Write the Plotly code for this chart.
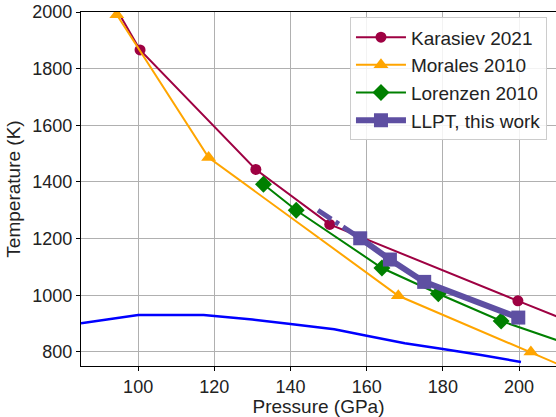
import plotly.graph_objects as go

# Data
blue_p = [85, 100, 117.2, 130, 140, 151.5, 160, 170, 180, 190, 200.5]
blue_t = [901, 930, 930, 914, 898, 880, 857, 830, 810, 789, 764]

kar_p = [92, 100.5, 130.9, 150.3, 199.7, 222]
kar_t = [2064, 1866, 1444, 1250, 980, 860]

mor_p = [94.4, 118.5, 168.3, 203.1, 218]
mor_t = [1990, 1486, 998, 799, 712]

lor_p = [132.9, 141.5, 164.0, 178.8, 195.3, 222]
lor_t = [1392, 1300, 1096, 1005, 909, 785]

llpt_p = [158.3, 166.1, 175.1, 199.8]
llpt_t = [1201, 1126, 1047, 921]

llpt_ext_p = [147.2, 158.3]
llpt_ext_t = [1300, 1201]

FONT = "Liberation Sans, Arial, sans-serif"
KAR = "#9e0142"
LLPT = "#5e4fa2"

fig = go.Figure()
fig.add_trace(go.Scatter(x=blue_p, y=blue_t, mode="lines",
                         line=dict(color="blue", width=2.5), showlegend=False))
fig.add_trace(go.Scatter(x=kar_p, y=kar_t, mode="lines+markers", name="Karasiev 2021",
                         line=dict(color=KAR, width=2),
                         marker=dict(symbol="circle", size=11, color=KAR)))
fig.add_trace(go.Scatter(x=mor_p, y=mor_t, mode="lines+markers", name="Morales 2010",
                         line=dict(color="orange", width=2),
                         marker=dict(symbol="triangle-up", size=13, color="orange")))
fig.add_trace(go.Scatter(x=lor_p, y=lor_t, mode="lines+markers", name="Lorenzen 2010",
                         line=dict(color="green", width=2),
                         marker=dict(symbol="diamond", size=13, color="green")))
fig.add_trace(go.Scatter(x=llpt_ext_p, y=llpt_ext_t, mode="lines", showlegend=False,
                         line=dict(color=LLPT, width=5, dash="16px,5px,4px,5px")))
fig.add_trace(go.Scatter(x=llpt_p, y=llpt_t, mode="lines+markers", name="LLPT, this work",
                         line=dict(color=LLPT, width=6),
                         marker=dict(symbol="square", size=14, color=LLPT)))

axis_common = dict(
    showgrid=True, gridcolor="#b0b0b0", gridwidth=1,
    showline=True, linecolor="black", linewidth=1.2,
    ticks="outside", ticklen=4, tickcolor="black",
    zeroline=False,
    tickfont=dict(family=FONT, size=18, color="#222"),
)

fig.update_layout(
    width=556, height=417,
    margin=dict(l=81, r=0, t=12, b=51),
    plot_bgcolor="white", paper_bgcolor="white",
    font=dict(family=FONT, size=19, color="#222"),
    xaxis=dict(range=[85, 209.7], tickvals=[100, 120, 140, 160, 180, 200],
               mirror=True,
               title=dict(text="Pressure (GPa)", font=dict(family=FONT, size=19), standoff=7),
               **axis_common),
    yaxis=dict(range=[750, 2000], tickvals=[800, 1000, 1200, 1400, 1600, 1800, 2000],
               title=dict(text="Temperature (K)", font=dict(family=FONT, size=19), standoff=6),
               **axis_common),
    legend=dict(x=0.981, y=0.985, xanchor="right", yanchor="top",
                bgcolor="rgba(255,255,255,0.85)", bordercolor="#cccccc", borderwidth=1,
                font=dict(family=FONT, size=19, color="#222"),
                itemwidth=50, tracegroupgap=0),
)

fig.write_html("out.html")
